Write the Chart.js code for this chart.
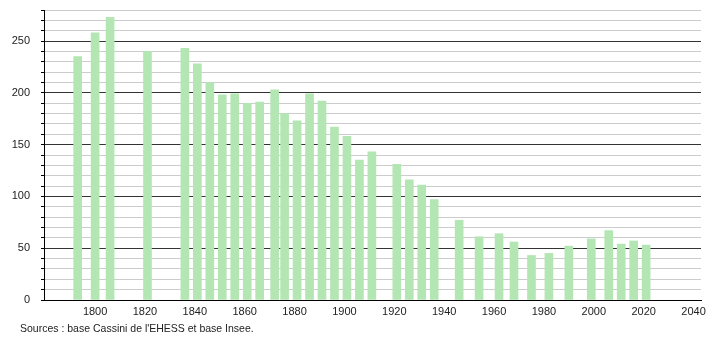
<!DOCTYPE html>
<html>
<head>
<meta charset="utf-8">
<script src="https://cdn.jsdelivr.net/npm/chart.js@4"></script>
<style>
    html, body { margin: 0; padding: 0; background: #fff; }
    #wrap { position: relative; width: 710px; height: 340px; }
    #source {
        position: absolute; left: 20px; top: 322px;
        font: 10.5px 'Liberation Sans', Arial, sans-serif; color: #222;
    }
</style>
</head>
<body>
<div id="wrap">
    <canvas id="popChart" width="710" height="340"></canvas>
    <div id="source">Sources : base Cassini de l'EHESS et base Insee.</div>
</div>
<script>
// Census years and population
const years = [1793, 1800, 1806, 1821, 1836, 1841, 1846, 1851, 1856, 1861, 1866, 1872,
    1876, 1881, 1886, 1891, 1896, 1901, 1906, 1911, 1921, 1926, 1931, 1936, 1946,
    1954, 1962, 1968, 1975, 1982, 1990, 1999, 2006, 2011, 2016, 2021];
const population = [235, 258, 273, 240, 243, 228, 210, 198, 199, 190, 191, 203,
    180, 173, 199, 192, 167, 158, 135, 143, 131, 116, 111, 97, 77,
    61, 64, 56, 43, 45, 52, 59, 67, 54, 57, 53];

const font = { family: "'Liberation Sans', Arial, sans-serif", size: 11 };

const ctx = document.getElementById('popChart').getContext('2d');

new Chart(ctx, {
    type: 'bar',
    data: {
        datasets: [{
            data: years.map((y, i) => ({ x: y, y: population[i] })),
            backgroundColor: '#b3e6b3',
            borderWidth: 0,
            barThickness: 8
        }]
    },
    options: {
        responsive: false,
        animation: false,
        layout: { padding: { top: 10, right: 9, left: 0, bottom: 0 } },
        plugins: {
            legend: { display: false },
            tooltip: { enabled: false }
        },
        scales: {
            x: {
                type: 'linear',
                min: 1779.5,
                max: 2043,
                offset: false,
                grid: { display: false, drawTicks: false },
                border: { color: '#000', width: 1 },
                ticks: {
                    stepSize: 20,
                    includeBounds: false,
                    autoSkip: false,
                    maxRotation: 0,
                    padding: 5,
                    color: '#222',
                    font: font,
                    callback: function (value) {
                        return value < 1800 ? '' : String(value);
                    }
                },
                afterFit: function (scale) {
                    scale.height = 40;
                    scale.paddingLeft = 0;
                    scale.paddingRight = 0;
                }
            },
            y: {
                min: 0,
                max: 280,
                grid: {
                    color: function (c) {
                        return c.tick.value % 50 === 0 ? '#333' : '#cccccc';
                    },
                    tickColor: '#000',
                    tickLength: 3
                },
                border: { color: '#000', width: 1 },
                ticks: {
                    stepSize: 10,
                    autoSkip: false,
                    padding: 11,
                    color: '#222',
                    font: font,
                    callback: function (value) {
                        return value % 50 === 0 ? String(value) : '';
                    }
                },
                afterFit: function (scale) {
                    scale.width = 44;
                    scale.paddingTop = 0;
                    scale.paddingBottom = 0;
                }
            }
        }
    }
});
</script>
</body>
</html>
